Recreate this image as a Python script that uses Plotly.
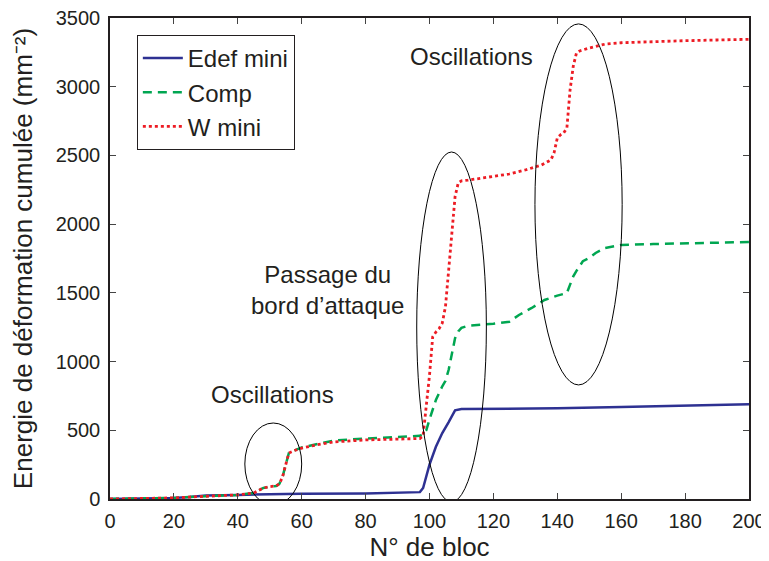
import plotly.graph_objects as go

edef_x = [0, 10, 20, 25, 30, 40, 50, 60, 80, 95, 97, 98, 100, 102, 104, 106, 108, 110, 120, 140, 160, 180, 200]
edef_y = [0, 2, 8, 15, 25, 30, 35, 38, 40, 45, 50, 80, 250, 380, 480, 560, 645, 655, 655, 660, 670, 680, 690]

w_x = [0, 20, 30, 40, 45, 48, 50, 52, 53, 54, 55, 56, 58, 60, 65, 70, 80, 90, 97, 98, 100, 101, 102, 103, 104, 105,
       106, 107, 108, 109, 110, 112, 115, 120, 125, 130, 135, 138, 139, 140, 141, 142, 143, 144, 145, 146, 147, 150,
       155, 160, 170, 180, 190, 200]
w_y = [0, 8, 20, 30, 44, 80, 90, 95, 110, 160, 250, 335, 355, 370, 395, 415, 430, 435, 440, 460, 900, 1180, 1215,
       1240, 1280, 1400, 1650, 1950, 2200, 2300, 2315, 2320, 2330, 2345, 2365, 2394, 2430, 2467, 2520, 2627, 2650,
       2664, 2700, 2977, 3150, 3246, 3260, 3282, 3310, 3320, 3330, 3335, 3340, 3345]

comp_x = [0, 20, 30, 40, 45, 48, 50, 52, 53, 54, 55, 56, 58, 60, 65, 70, 80, 90, 97, 98, 99, 100, 102, 104, 105, 106,
          107, 108, 109, 110, 112, 115, 120, 125, 128, 132, 136, 140, 143, 144, 145, 146, 147, 148, 150, 152, 155, 160,
          170, 180, 190, 200]
comp_y = [0, 8, 20, 30, 44, 80, 90, 95, 110, 160, 250, 335, 355, 375, 400, 425, 440, 450, 460, 470, 500, 580, 720,
          820, 860, 940, 1050, 1170, 1220, 1245, 1260, 1265, 1275, 1290, 1339, 1390, 1448, 1480, 1499, 1560, 1620,
          1660, 1700, 1730, 1754, 1790, 1827, 1849, 1855, 1860, 1865, 1870]

x_ticks = [0, 20, 40, 60, 80, 100, 120, 140, 160, 180, 200]
y_ticks = [0, 500, 1000, 1500, 2000, 2500, 3000, 3500]

ellipses = [(42.2, -44, 60, 553), (96, -22, 117.8, 2525), (133, 830, 160.3, 3457)]
labels = [(113, 3220, "Oscillations"), (68, 1520, "Passage du<br>bord d’attaque"), (51, 757, "Oscillations")]

FONT = "Liberation Sans, Arial, sans-serif"

fig = go.Figure()
fig.add_trace(go.Scatter(x=edef_x, y=edef_y, mode="lines", name="Edef mini",
                         line=dict(color="#2e3192", width=2.5)))
fig.add_trace(go.Scatter(x=comp_x, y=comp_y, mode="lines", name="Comp",
                         line=dict(color="#00a651", width=2.5, dash="9px,6px")))
fig.add_trace(go.Scatter(x=w_x, y=w_y, mode="lines", name="W mini",
                         line=dict(color="#ed1c24", width=2.8, dash="3px,3px")))

for x0, y0, x1, y1 in ellipses:
    fig.add_shape(type="circle", xref="x", yref="y", x0=x0, y0=y0, x1=x1, y1=y1,
                  line=dict(color="black", width=1))

for x, y, t in labels:
    fig.add_annotation(x=x, y=y, text=t, showarrow=False, xref="x", yref="y",
                       font=dict(size=24, color="#231f20", family=FONT))

# page body has an 8px default margin, so margins are reduced by 8 on left/top
fig.update_layout(
    width=769, height=561,
    margin=dict(l=102, r=28, t=10, b=70),
    paper_bgcolor="white", plot_bgcolor="white",
    font=dict(family=FONT, color="#231f20"),
    legend=dict(x=0.042, y=0.965, xanchor="left", yanchor="top",
                bordercolor="#231f20", borderwidth=1, bgcolor="white",
                font=dict(size=24, family=FONT), tracegroupgap=0, itemwidth=40),
    xaxis=dict(range=[0, 200], tickvals=x_ticks, ticks="inside", ticklen=6, tickwidth=1,
               showline=True, linecolor="#231f20", linewidth=1.5, mirror="allticks",
               showgrid=False, zeroline=False, tickfont=dict(size=20), automargin=False,
               ticklabelstandoff=3, ticklabeloverflow="allow",
               title=dict(text="N° de bloc", font=dict(size=26), standoff=2)),
    yaxis=dict(range=[0, 3500], tickvals=y_ticks, ticks="inside", ticklen=6, tickwidth=1,
               showline=True, linecolor="#231f20", linewidth=1.5, mirror="allticks",
               showgrid=False, zeroline=False, tickfont=dict(size=20), automargin=False,
               ticklabelstandoff=4, ticklabeloverflow="allow",
               title=dict(text="Energie de déformation cumulée (mm⁻²)", font=dict(size=26), standoff=19)),
)

fig.write_html("out.html")
